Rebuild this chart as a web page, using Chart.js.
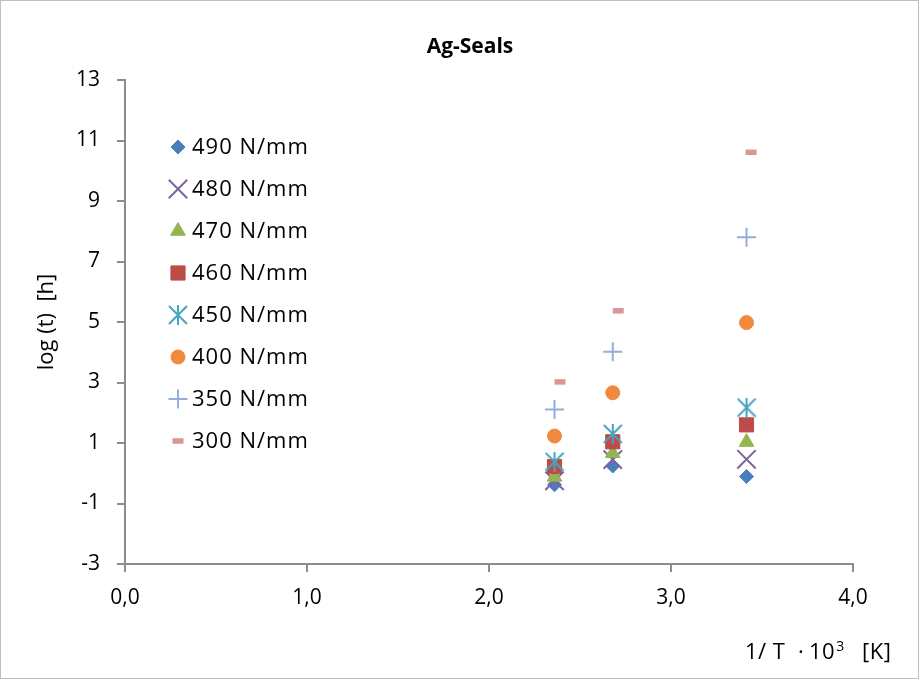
<!DOCTYPE html>
<html>
<head>
<meta charset="utf-8">
<script src="https://cdn.jsdelivr.net/npm/chart.js@4.4.0/dist/chart.umd.min.js"></script>
<style>
  html, body { margin: 0; padding: 0; background: #fff; }
</style>
</head>
<body>
<canvas id="chart" width="919" height="679"></canvas>
<script>
// données
const labels = ['490 N/mm', '480 N/mm', '470 N/mm', '460 N/mm', '450 N/mm', '400 N/mm', '350 N/mm', '300 N/mm'];
const invTemp = [2.36, 2.68, 3.415];
const invTemp300 = [2.39, 2.71, 3.44];
const s490 = [-0.38, 0.24, -0.11];
const s480 = [-0.25, 0.45, 0.46];
const s470 = [-0.12, 0.66, 1.03];
const s460 = [0.22, 1.04, 1.6];
const s450 = [0.38, 1.3, 2.17];
const s400 = [1.23, 2.66, 4.98];
const s350 = [2.11, 4.02, 7.8];
const s300 = [3.02, 5.37, 10.61];
const yTicks = [-3, 13, 2];
const xTicks = [0, 4, 1];

const FONT = "'Open Sans', sans-serif";

// marqueur astérisque (X + trait vertical)
function asterisk(color) {
    var c = document.createElement('canvas');
    c.width = 20; c.height = 20;
    var g = c.getContext('2d');
    g.strokeStyle = color;
    g.lineWidth = 2;
    g.beginPath();
    g.moveTo(1, 1); g.lineTo(19, 19);
    g.moveTo(19, 1); g.lineTo(1, 19);
    g.moveTo(10, 0); g.lineTo(10, 20);
    g.stroke();
    return c;
}

function pts(xs, ys) {
    return ys.map(function (v, i) { return { x: xs[i], y: v }; });
}

const styles = [
    { color: '#4a7ebb', pointStyle: 'rectRot', radius: 7, bw: 1 },
    { color: '#7f62a1', pointStyle: 'crossRot', radius: 13, bw: 2 },
    { color: '#93b552', pointStyle: 'triangle', radius: 8.5, bw: 1 },
    { color: '#be4b48', pointStyle: 'rect', radius: 10, bw: 1 },
    { color: '#46a5bf', pointStyle: asterisk('#46a5bf'), radius: 10, bw: 0 },
    { color: '#f0893b', pointStyle: 'circle', radius: 7, bw: 1 },
    { color: '#93aed8', pointStyle: 'cross', radius: 9.5, bw: 2 },
    { color: '#d99694', pointStyle: 'line', radius: 5.5, bw: 5.5 }
];
const series = [s490, s480, s470, s460, s450, s400, s350, s300];

const datasets = series.map(function (s, i) {
    var st = styles[i];
    return {
        label: labels[i],
        data: pts(i === 7 ? invTemp300 : invTemp, s),
        backgroundColor: st.color,
        borderColor: st.color,
        pointStyle: st.pointStyle,
        pointRadius: st.radius,
        pointHoverRadius: st.radius,
        borderWidth: st.bw,
        pointBorderWidth: st.bw,
        showLine: false,
        order: 10 - i
    };
});

// textes, légende à l'intérieur et cadre
const decor = {
    id: 'decor',
    afterDraw: function (chart) {
        var ctx = chart.ctx;
        var area = chart.chartArea;
        ctx.save();
        ctx.strokeStyle = '#bfbfbf';
        ctx.lineWidth = 1;
        ctx.strokeRect(0.5, 0.5, chart.width - 1, chart.height - 1);

        ctx.fillStyle = '#000';
        ctx.font = 'bold 21px ' + FONT;
        ctx.textAlign = 'center';
        ctx.textBaseline = 'middle';
        ctx.fillText('Ag-Seals', 470, 47);

        ctx.font = '22px ' + FONT;
        ctx.save();
        ctx.translate(47, (area.top + area.bottom) / 2);
        ctx.rotate(-Math.PI / 2);
        ctx.fillText('log (t)  [h]', 0, 0);
        ctx.restore();

        ctx.textAlign = 'left';
        ctx.textBaseline = 'alphabetic';
        ctx.letterSpacing = '0.5px';
        ctx.fillText('1/ T', 745, 659);
        ctx.fillText('\u00b7', 798, 659);
        ctx.fillText('10', 809, 659);
        var w10 = ctx.measureText('10').width;
        ctx.font = '14px ' + FONT;
        ctx.fillText('3', 809 + w10 + 1, 651);
        ctx.font = '22px ' + FONT;
        ctx.fillText('[K]', 862, 659);

        ctx.letterSpacing = '1px';
        chart.data.datasets.forEach(function (ds, i) {
            var y = area.top + 67 + i * 42;
            var x = area.left + 53;
            ctx.save();
            ctx.fillStyle = ds.backgroundColor;
            ctx.strokeStyle = ds.borderColor;
            ctx.lineWidth = ds.pointBorderWidth;
            Chart.helpers.drawPoint(ctx, {
                pointStyle: ds.pointStyle,
                radius: ds.pointRadius,
                borderWidth: ds.pointBorderWidth,
                rotation: 0
            }, x, y);
            ctx.restore();
            ctx.fillStyle = '#000';
            ctx.textBaseline = 'middle';
            ctx.fillText(ds.label, x + 14, y + 1);
        });
        ctx.letterSpacing = '0px';
        ctx.restore();
    }
};

var axisColor = '#8c8c8c';

new Chart(document.getElementById('chart'), {
    type: 'scatter',
    data: { datasets: datasets },
    options: {
        responsive: false,
        animation: false,
        layout: { padding: { left: 0, top: 80, right: 66, bottom: 0 } },
        plugins: {
            legend: { display: false },
            title: { display: false },
            tooltip: { enabled: false }
        },
        scales: {
            x: {
                type: 'linear',
                min: xTicks[0],
                max: xTicks[1],
                afterFit: function (scale) { scale.height = 115; },
                ticks: {
                    stepSize: xTicks[2],
                    color: '#000',
                    padding: 13,
                    maxRotation: 0,
                    font: { family: FONT, size: 21 },
                    callback: function (v) { return v.toFixed(1).replace('.', ','); }
                },
                grid: { drawOnChartArea: false, drawTicks: true, tickLength: 8, color: axisColor, lineWidth: 2 },
                border: { color: axisColor, width: 2 }
            },
            y: {
                type: 'linear',
                min: yTicks[0],
                max: yTicks[1],
                afterFit: function (scale) { scale.width = 125; },
                ticks: {
                    stepSize: yTicks[2],
                    color: '#000',
                    padding: 17,
                    font: { family: FONT, size: 21 }
                },
                grid: { drawOnChartArea: false, drawTicks: true, tickLength: 8, color: axisColor, lineWidth: 2 },
                border: { color: axisColor, width: 2 }
            }
        }
    },
    plugins: [decor]
});
</script>
</body>
</html>
